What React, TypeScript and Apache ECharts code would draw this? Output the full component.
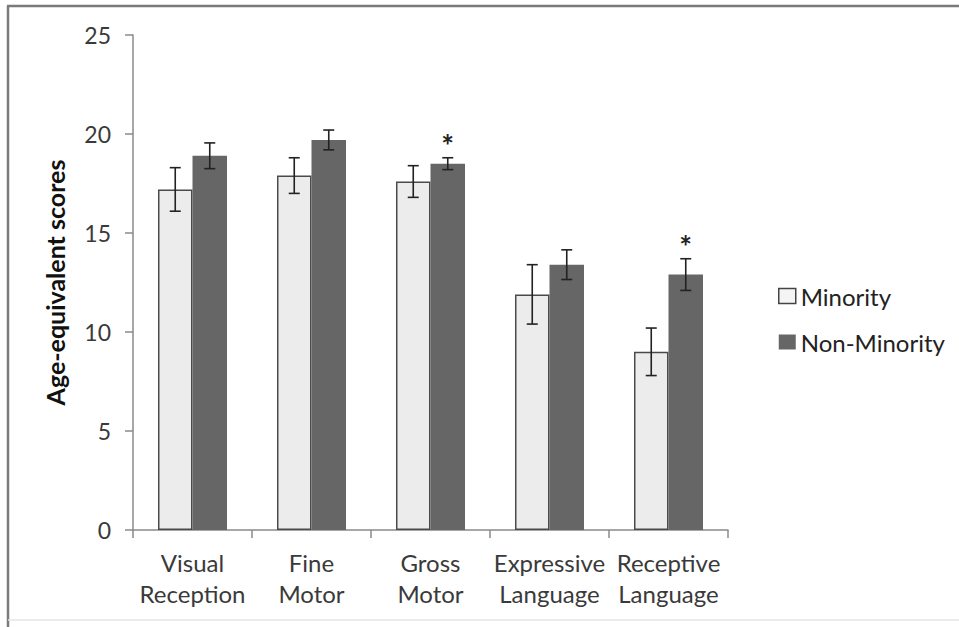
import React, { useEffect, useRef } from "react";
import * as echarts from "echarts";

const categories = [
  "Visual\nReception",
  "Fine\nMotor",
  "Gross\nMotor",
  "Expressive\nLanguage",
  "Receptive\nLanguage",
];
const minority = [17.2, 17.9, 17.6, 11.9, 9.0];
const minorityErr = [1.1, 0.9, 0.8, 1.5, 1.2];
const nonMinority = [18.9, 19.7, 18.5, 13.4, 12.9];
const nonMinorityErr = [0.65, 0.5, 0.3, 0.75, 0.8];
const significance = ["", "", "*", "", "*"];
const yTicks = { min: 0, max: 25, interval: 5 };

const CAT_GAP = 0.42;
const FONT = "Lato, 'Open Sans', sans-serif";

function makeErrRenderer(sign: number, withStars: boolean) {
  return (params: any, api: any) => {
    const idx = api.value(0);
    const v = api.value(1);
    const e = api.value(2);
    const band = api.size([1, 0])[0];
    const off = (sign * band * (1 - CAT_GAP)) / 4;
    const top = api.coord([idx, v + e]);
    const bot = api.coord([idx, v - e]);
    const x = top[0] + off;
    const cap = 5.5;
    const st = { stroke: "#222", lineWidth: 1.6 };
    const children: any[] = [
      { type: "line", shape: { x1: x, y1: top[1], x2: x, y2: bot[1] }, style: st },
      { type: "line", shape: { x1: x - cap, y1: top[1], x2: x + cap, y2: top[1] }, style: st },
      { type: "line", shape: { x1: x - cap, y1: bot[1], x2: x + cap, y2: bot[1] }, style: st },
    ];
    if (withStars && significance[idx]) {
      children.push({
        type: "text",
        style: {
          text: significance[idx],
          x: x,
          y: top[1] + 2,
          align: "center",
          verticalAlign: "bottom",
          font: `bold 30px ${FONT}`,
          fill: "#222",
        },
      });
    }
    return { type: "group", children };
  };
}

export default function App() {
  const ref = useRef<HTMLDivElement>(null);
  useEffect(() => {
    document.body.style.margin = "0";
    const chart = echarts.init(ref.current!, null, { renderer: "svg" });
    chart.setOption({
      animation: false,
      backgroundColor: "#ffffff",
      textStyle: { fontFamily: FONT },
      grid: { left: 133, right: 231, top: 35, bottom: 97 },
      legend: {
        orient: "vertical",
        left: 773,
        top: 279,
        itemWidth: 17,
        itemHeight: 15,
        itemGap: 22,
        icon: "rect",
        textStyle: { fontSize: 24, color: "#222", fontFamily: FONT, lineHeight: 24 },
        data: [
          { name: "Minority", itemStyle: { color: "#f4f4f4", borderColor: "#444", borderWidth: 1.5 } },
          { name: "Non-Minority", itemStyle: { color: "#666666" } },
        ],
      },
      xAxis: {
        type: "category",
        data: categories,
        axisLine: { show: true, lineStyle: { color: "#8a8a8a", width: 1.5 } },
        axisTick: { show: true, length: 8, alignWithLabel: false, lineStyle: { color: "#8a8a8a", width: 1.5 } },
        axisLabel: {
          fontSize: 24,
          lineHeight: 31,
          color: "#3a3a3a",
          margin: 17,
          interval: 0,
          fontFamily: FONT,
        },
      },
      yAxis: {
        type: "value",
        min: yTicks.min,
        max: yTicks.max,
        interval: yTicks.interval,
        name: "Age-equivalent scores",
        nameLocation: "middle",
        nameRotate: 90,
        nameGap: 66,
        nameTextStyle: { fontSize: 25, fontWeight: "bold", color: "#111", fontFamily: FONT },
        axisLine: { show: true, lineStyle: { color: "#8a8a8a", width: 1.5 } },
        axisTick: { show: true, length: 8, lineStyle: { color: "#8a8a8a", width: 1.5 } },
        splitLine: { show: false },
        axisLabel: { fontSize: 23, color: "#3a3a3a", margin: 22, fontFamily: FONT },
      },
      graphic: [
        { type: "line", shape: { x1: 7, y1: 6, x2: 959, y2: 6 }, style: { stroke: "#7a7a7a", lineWidth: 2.5 } },
        { type: "line", shape: { x1: 8, y1: 6, x2: 8, y2: 627 }, style: { stroke: "#7a7a7a", lineWidth: 2.5 } },
        { type: "line", shape: { x1: 8, y1: 620, x2: 959, y2: 620 }, style: { stroke: "#e4e4e4", lineWidth: 1.5 } },
      ],
      series: [
        {
          name: "Minority",
          type: "bar",
          data: minority,
          barGap: "0%",
          barCategoryGap: `${CAT_GAP * 100}%`,
          itemStyle: { color: "#ececec", borderColor: "#4a4a4a", borderWidth: 1.5 },
        },
        {
          name: "Non-Minority",
          type: "bar",
          data: nonMinority,
          barGap: "0%",
          barCategoryGap: `${CAT_GAP * 100}%`,
          itemStyle: { color: "#666666" },
        },
        {
          name: "MinorityErr",
          type: "custom",
          z: 5,
          renderItem: makeErrRenderer(-1, false),
          encode: { x: 0, y: 1 },
          data: minority.map((v, i) => [i, v, minorityErr[i]]),
        },
        {
          name: "NonMinorityErr",
          type: "custom",
          z: 5,
          renderItem: makeErrRenderer(1, true),
          encode: { x: 0, y: 1 },
          data: nonMinority.map((v, i) => [i, v, nonMinorityErr[i]]),
        },
      ],
    });
    return () => chart.dispose();
  }, []);
  return (
    <div
      ref={ref}
      style={{ position: "fixed", left: 0, top: 0, width: 959, height: 627 }}
    />
  );
}
